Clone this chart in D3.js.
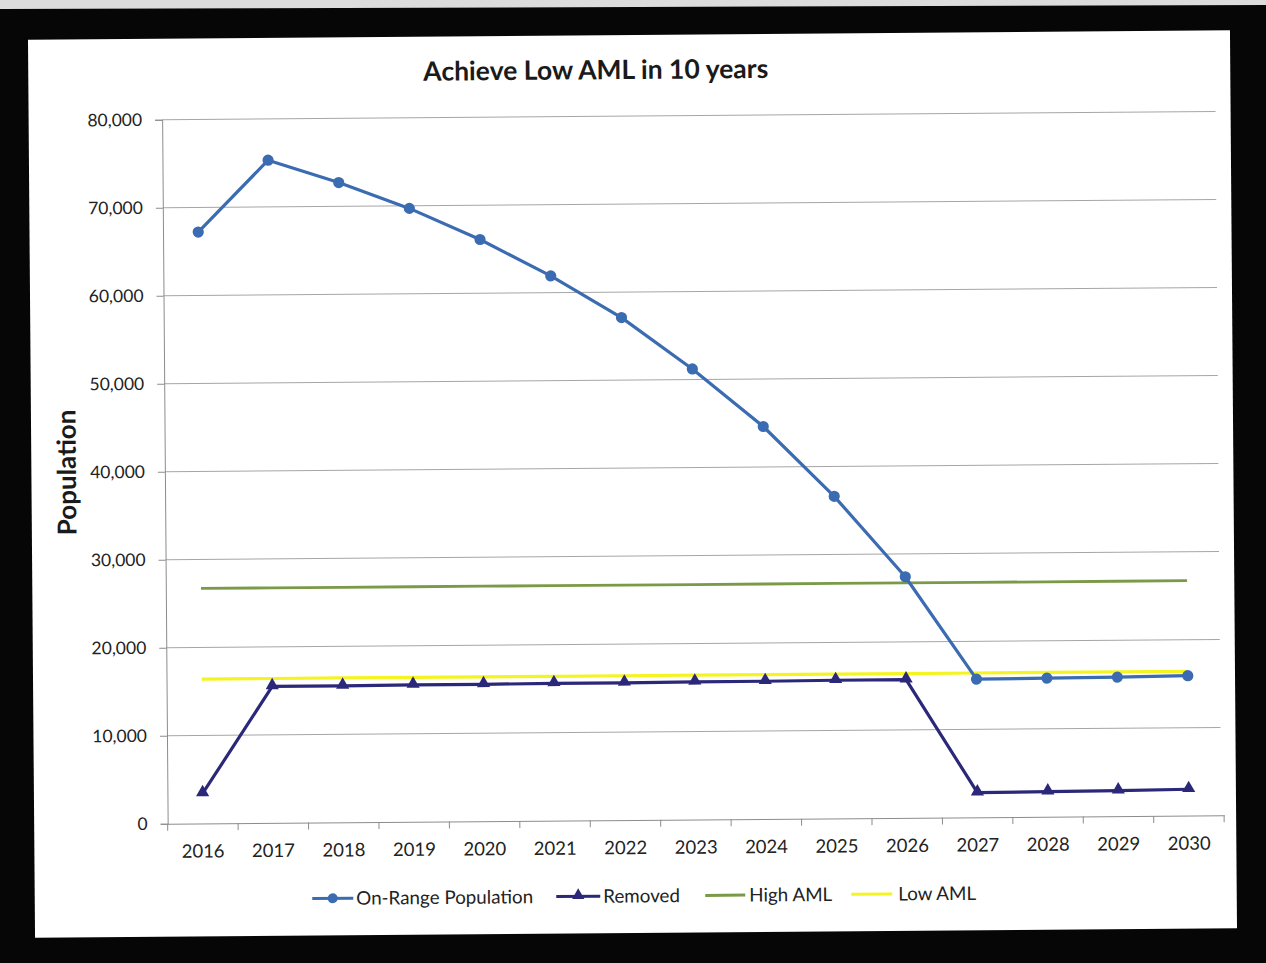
<!DOCTYPE html>
<html>
<head>
<meta charset="utf-8">
<script src="https://cdn.jsdelivr.net/npm/d3@7"></script>
<style>
  html, body { margin: 0; padding: 0; background: #000; }
  svg { display: block; }
  text { font-family: Lato, "Open Sans", sans-serif; }
</style>
</head>
<body>
<svg id="chart" width="1266" height="963"></svg>
<script>
// Population projection data
const years = [2016, 2017, 2018, 2019, 2020, 2021, 2022, 2023, 2024, 2025, 2026, 2027, 2028, 2029, 2030];
const onRange = [67200, 75300, 72700, 69700, 66100, 61900, 57100, 51200, 44600, 36600, 27400, 15700, 15750, 15800, 15900];
const removed = [3400, 15500, 15500, 15550, 15550, 15600, 15600, 15650, 15650, 15700, 15700, 2800, 2850, 2900, 3000];
const highAML = [26700, 26700, 26700, 26700, 26700, 26700, 26700, 26700, 26700, 26700, 26700, 26700, 26700, 26700, 26700];
const lowAML = [16400, 16400, 16400, 16400, 16400, 16400, 16400, 16400, 16400, 16400, 16400, 16400, 16400, 16400, 16400];
const yTicks = [0, 10000, 20000, 30000, 40000, 50000, 60000, 70000, 80000];

const colors = {
  onRange: "#3b6cb2",
  removed: "#2c2879",
  high: "#7b9a48",
  low: "#f4f423"
};

const svg = d3.select("#chart");

// dark frame and the light strip along the top edge
svg.append("rect").attr("width", 1266).attr("height", 963).attr("fill", "#060606");
svg.append("path").attr("d", "M0,0 L1266,0 L1266,5 L0,9 Z").attr("fill", "#dcdcdc");

// the sheet is slightly tilted inside the frame
const page = svg.append("g").attr("transform", "rotate(-0.45 632 484)");
page.append("rect")
  .attr("x", 31.5).attr("y", 35).attr("width", 1202).attr("height", 898)
  .attr("fill", "#ffffff");

const plot = { left: 165, right: 1221.5, top: 116, bottom: 820 };

const x = d3.scaleBand().domain(years).range([plot.left, plot.right]).padding(0);
const cx = d => x(d) + x.bandwidth() / 2;
const y = d3.scaleLinear().domain([0, 80000]).range([plot.bottom, plot.top]);

// horizontal gridlines
page.append("g").selectAll("line").data(yTicks.filter(t => t > 0)).join("line")
  .attr("x1", plot.left).attr("x2", plot.right - 3)
  .attr("y1", d => y(d)).attr("y2", d => y(d))
  .attr("stroke", "#a6a6a6").attr("stroke-width", 1);

// y axis
const yAxis = d3.axisLeft(y).tickValues(yTicks).tickFormat(d3.format(",")).tickSize(7).tickPadding(13);
const gy = page.append("g").attr("transform", `translate(${plot.left},0)`).call(yAxis);
gy.select(".domain").attr("stroke", "#8c8c8c");
gy.selectAll(".tick line").attr("stroke", "#8c8c8c");
gy.selectAll(".tick text").attr("font-size", 17.5).attr("fill", "#222")
  .attr("font-family", "Lato, 'Open Sans', sans-serif");

// x axis with ticks between categories
const xAxis = d3.axisBottom(x).tickSize(0).tickPadding(21);
const gx = page.append("g").attr("transform", `translate(0,${plot.bottom})`).call(xAxis);
gx.select(".domain").attr("stroke", "#8c8c8c");
gx.selectAll(".tick text").attr("font-size", 18.5).attr("fill", "#222")
  .attr("font-family", "Lato, 'Open Sans', sans-serif");
const bounds = years.map(d => x(d)).concat([plot.right]);
gx.append("g").selectAll("line").data(bounds).join("line")
  .attr("x1", d => d).attr("x2", d => d).attr("y1", 0).attr("y2", 7)
  .attr("stroke", "#8c8c8c");

// series
const line = vals => d3.line().x((v, i) => cx(years[i])).y(v => y(v))(vals);

page.append("path").attr("d", line(lowAML)).attr("fill", "none")
  .attr("stroke", colors.low).attr("stroke-width", 3.2);
page.append("path").attr("d", line(highAML)).attr("fill", "none")
  .attr("stroke", colors.high).attr("stroke-width", 2.8);

page.append("path").attr("d", line(removed)).attr("fill", "none")
  .attr("stroke", colors.removed).attr("stroke-width", 3.2).attr("stroke-linejoin", "round");
const tri = d3.symbol().type(d3.symbolTriangle).size(75);
page.append("g").selectAll("path").data(removed).join("path")
  .attr("d", tri)
  .attr("transform", (v, i) => `translate(${cx(years[i])},${y(v) - 1})`)
  .attr("fill", colors.removed);

page.append("path").attr("d", line(onRange)).attr("fill", "none")
  .attr("stroke", colors.onRange).attr("stroke-width", 3.2).attr("stroke-linejoin", "round");
page.append("g").selectAll("circle").data(onRange).join("circle")
  .attr("cx", (v, i) => cx(years[i])).attr("cy", v => y(v)).attr("r", 5.6)
  .attr("fill", colors.onRange);

// titles
page.append("text").attr("x", 599).attr("y", 79).attr("text-anchor", "middle")
  .attr("font-size", 26.5).attr("font-weight", "bold").attr("fill", "#1a1a1a")
  .text("Achieve Low AML in 10 years");
page.append("text").attr("transform", "translate(76,468) rotate(-90)")
  .attr("text-anchor", "middle").attr("font-size", 26).attr("font-weight", "bold")
  .attr("fill", "#1a1a1a").text("Population");

// legend
const legendItems = [
  { label: "On-Range Population", color: colors.onRange, x1: 309, x2: 350, mark: "circle", tx: 353 },
  { label: "Removed", color: colors.removed, x1: 553, x2: 597, mark: "triangle", tx: 600 },
  { label: "High AML", color: colors.high, x1: 702, x2: 742, mark: null, tx: 746 },
  { label: "Low AML", color: colors.low, x1: 848, x2: 889, mark: null, tx: 895 }
];
const ly = 896;
const lg = page.append("g");
legendItems.forEach(it => {
  lg.append("line").attr("x1", it.x1).attr("x2", it.x2).attr("y1", ly).attr("y2", ly)
    .attr("stroke", it.color).attr("stroke-width", 3);
  const mx = (it.x1 + it.x2) / 2;
  if (it.mark === "circle") {
    lg.append("circle").attr("cx", mx).attr("cy", ly).attr("r", 5).attr("fill", it.color);
  } else if (it.mark === "triangle") {
    lg.append("path").attr("d", d3.symbol().type(d3.symbolTriangle).size(65)())
      .attr("transform", `translate(${mx},${ly - 1})`).attr("fill", it.color);
  }
  lg.append("text").attr("x", it.tx).attr("y", ly + 6.5).attr("font-size", 18.8)
    .attr("fill", "#222").text(it.label);
});
</script>
</body>
</html>
